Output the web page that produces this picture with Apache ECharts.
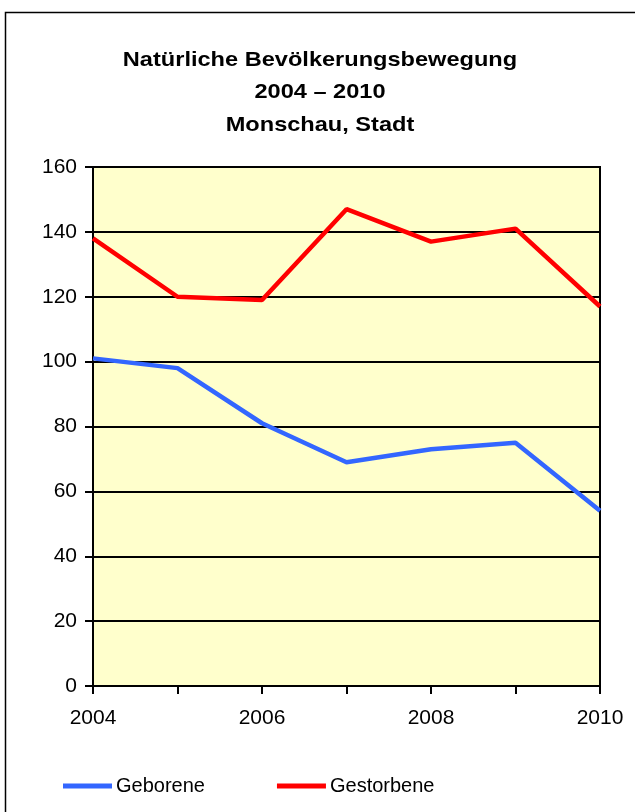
<!DOCTYPE html>
<html>
<head>
<meta charset="utf-8">
<script src="https://cdn.jsdelivr.net/npm/echarts@6/dist/echarts.min.js"></script>
<style>
html,body{margin:0;padding:0;background:#fff;}
#c{width:635px;height:812px;}
</style>
</head>
<body>
<div id="c"></div>
<script>
const years = ['2004','2005','2006','2007','2008','2009','2010'];
const geborene = [101, 98, 81, 69, 73, 75, 54];
const gestorbene = [138, 120, 119, 147, 137, 141, 117];
const titleText = 'Natürliche Bevölkerungsbewegung\n2004 – 2010\nMonschau, Stadt';

const FONT = 'Liberation Sans, Arial, sans-serif';
const chart = echarts.init(document.getElementById('c'));
chart.setOption({
  animation: false,
  backgroundColor: '#ffffff',
  graphic: [{
    type: 'rect',
    shape: {x: 5.5, y: 12.5, width: 700, height: 900},
    style: {fill: 'none', stroke: '#000', lineWidth: 1.5},
    silent: true
  }, {
    type: 'text',
    x: 320,
    y: 44,
    scaleX: 1.15,
    silent: true,
    style: {
      text: titleText,
      font: 'bold 20.5px ' + FONT,
      fill: '#000',
      textAlign: 'center',
      textVerticalAlign: 'top',
      lineHeight: 32.5
    }
  }],
  legend: {
    top: 771,
    left: 58,
    itemGap: 72,
    itemWidth: 49,
    itemHeight: 5,
    icon: 'rect',
    textStyle: {fontFamily: FONT, fontSize: 20, color: '#000', padding: [0,0,0,-1]},
    data: ['Geborene', 'Gestorbene']
  },
  grid: {
    left: 93, right: 35, top: 167, bottom: 126,
    show: true,
    backgroundColor: '#FFFFCC',
    borderColor: '#000',
    borderWidth: 2
  },
  xAxis: {
    type: 'category',
    data: years,
    boundaryGap: false,
    axisLine: {lineStyle: {color: '#000', width: 2}},
    axisTick: {show: true, interval: 0, length: 8, lineStyle: {color: '#000', width: 2}},
    axisLabel: {
      interval: 1,
      margin: 22,
      color: '#000',
      fontFamily: FONT,
      fontSize: 21
    },
    splitLine: {show: false}
  },
  yAxis: {
    type: 'value',
    min: 0, max: 160, interval: 20,
    axisLine: {show: true, lineStyle: {color: '#000', width: 2}},
    axisTick: {show: true, length: 8, lineStyle: {color: '#000', width: 2}},
    axisLabel: {
      margin: 16,
      color: '#000',
      fontFamily: FONT,
      fontSize: 21
    },
    splitLine: {show: true, lineStyle: {color: '#000', width: 2}}
  },
  series: [
    {
      name: 'Geborene',
      type: 'line',
      data: geborene,
      symbol: 'none',
      color: '#3366FF',
      lineStyle: {color: '#3366FF', width: 4.5}
    },
    {
      name: 'Gestorbene',
      type: 'line',
      data: gestorbene,
      symbol: 'none',
      color: '#FF0000',
      lineStyle: {color: '#FF0000', width: 4.5}
    }
  ]
});
</script>
</body>
</html>
